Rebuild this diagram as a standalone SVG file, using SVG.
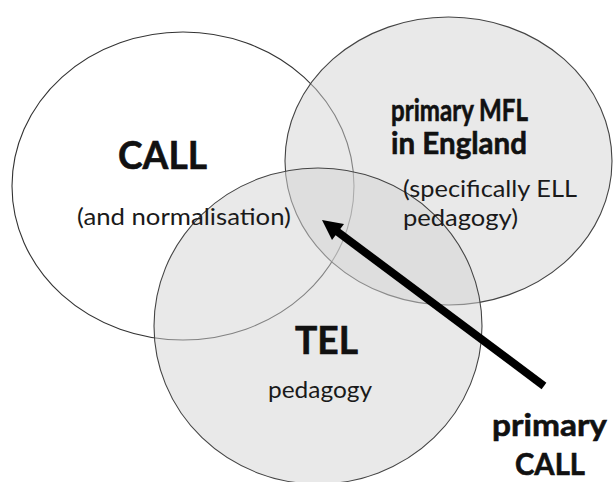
<svg xmlns="http://www.w3.org/2000/svg" width="613" height="482" viewBox="0 0 613 482">
  <style>
    .set { stroke-width: 1.1; }
    .shade { fill: #d4d4d4; fill-opacity: 0.5; stroke: #444; }
    .title { font-family: Lato, "Open Sans", "Liberation Sans", sans-serif; font-weight: bold; fill: #111; stroke: #111; stroke-width: 0.6; }
    .note { font-family: Lato, "Open Sans", "Liberation Sans", sans-serif; font-size: 23px; fill: #1a1a1a; }
  </style>
  <rect width="613" height="482" fill="#ffffff"/>

  <!-- CALL set -->
  <g id="call">
    <ellipse class="set" cx="183" cy="186" rx="171" ry="154" fill="#ffffff" stroke="#333"/>
  </g>

  <!-- primary MFL set -->
  <g id="mfl">
    <ellipse class="set shade" cx="448.5" cy="161" rx="163.5" ry="144"/>
  </g>

  <!-- TEL set -->
  <g id="tel">
    <ellipse class="set shade" cx="318" cy="326" rx="164" ry="158"/>
  </g>

  <!-- labels -->
  <g id="call-label">
    <text class="title" x="118" y="169" font-size="38" textLength="89" lengthAdjust="spacingAndGlyphs">CALL</text>
    <text class="note" x="77" y="225" textLength="214" lengthAdjust="spacingAndGlyphs">(and normalisation)</text>
  </g>
  <g id="mfl-label">
    <text class="title" x="391" y="121" font-size="30" textLength="137" lengthAdjust="spacingAndGlyphs">primary MFL</text>
    <text class="title" x="391" y="154" font-size="30" textLength="136" lengthAdjust="spacingAndGlyphs">in England</text>
    <text class="note" x="403" y="197" textLength="174" lengthAdjust="spacingAndGlyphs">(specifically ELL</text>
    <text class="note" x="403" y="226" textLength="115" lengthAdjust="spacingAndGlyphs">pedagogy)</text>
  </g>
  <g id="tel-label">
    <text class="title" x="295" y="354" font-size="38" textLength="63" lengthAdjust="spacingAndGlyphs">TEL</text>
    <text class="note" x="268" y="398" textLength="104" lengthAdjust="spacingAndGlyphs">pedagogy</text>
  </g>
  <g id="primary-call">
    <text class="title" x="492" y="436" font-size="31" textLength="115" lengthAdjust="spacingAndGlyphs">primary</text>
    <text class="title" x="515" y="475" font-size="31" textLength="70" lengthAdjust="spacingAndGlyphs">CALL</text>
  </g>

  <!-- pointer into the shared region -->
  <g id="connectors">
    <line x1="544" y1="386" x2="333" y2="228.4" stroke="#000" stroke-width="8"/>
    <polygon points="322,220 332,240 344,224" fill="#000"/>
  </g>
</svg>
